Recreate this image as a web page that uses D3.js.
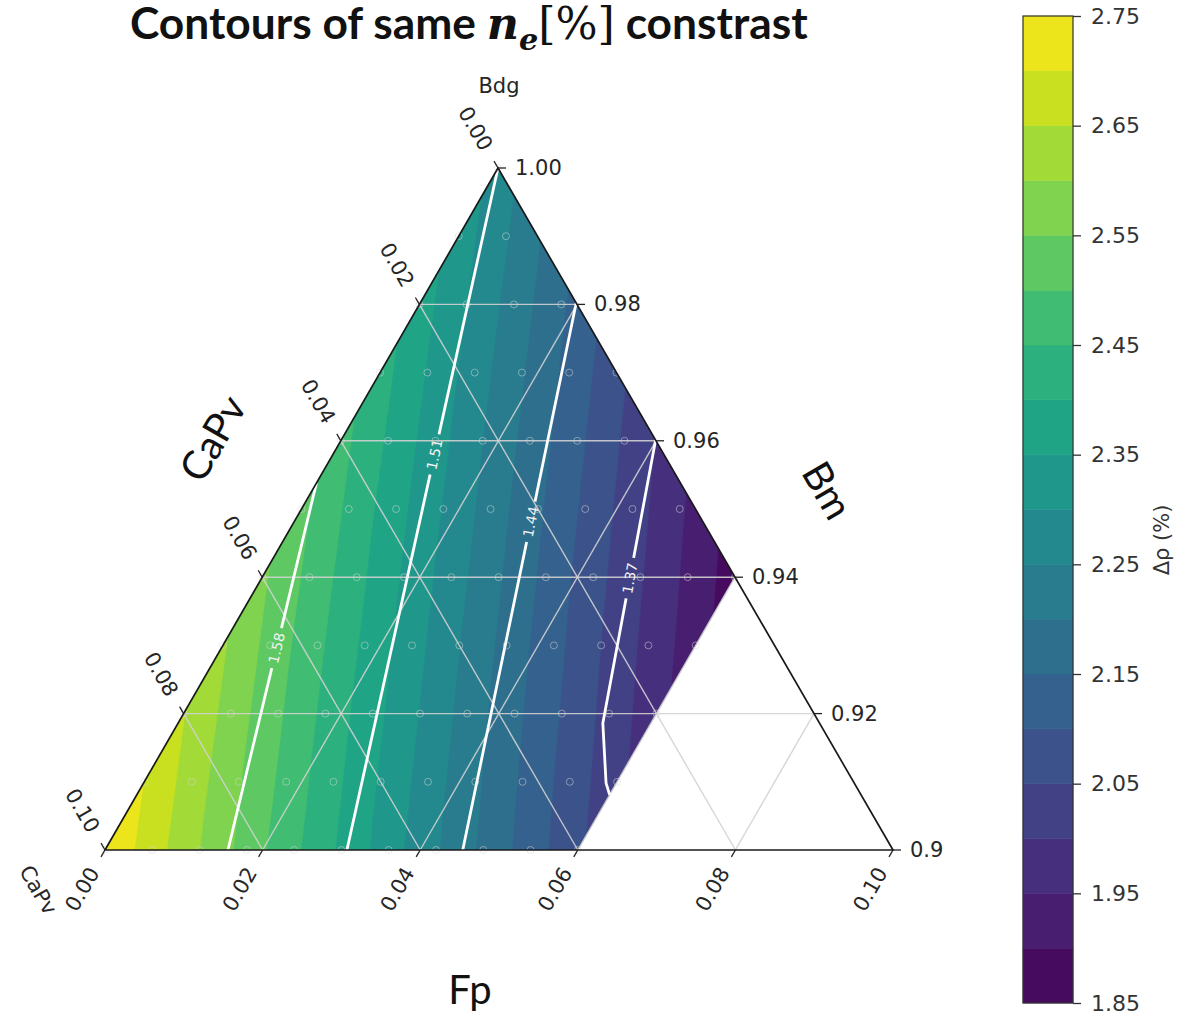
<!DOCTYPE html>
<html>
<head>
<meta charset="utf-8">
<script src="https://cdn.jsdelivr.net/npm/d3@7"></script>
<style>
  body { margin: 0; background: #fff; }
  svg { display: block; }
</style>
</head>
<body>
<svg id="chart" width="1197" height="1014"></svg>
<script>
// Δρ (%) on a 0.01 grid.
// rows = CaPv 0.00 … 0.10, columns = Fp 0.00 … 0.06
// (nodes with Fp + CaPv > 0.10 sit outside the triangle and get clipped)
const fpNodes = [0, 0.01, 0.02, 0.03, 0.04, 0.05, 0.06];
const capvNodes = [0, 0.01, 0.02, 0.03, 0.04, 0.05, 0.06, 0.07, 0.08, 0.09, 0.10];
const dRho = [
  [2.280, 2.205, 2.134, 2.065, 1.998, 1.935, 1.874],
  [2.327, 2.252, 2.181, 2.112, 2.045, 1.982, 1.921],
  [2.373, 2.298, 2.227, 2.158, 2.091, 2.028, 1.967],
  [2.420, 2.345, 2.274, 2.205, 2.138, 2.075, 2.014],
  [2.466, 2.391, 2.320, 2.251, 2.184, 2.121, 2.060],
  [2.513, 2.438, 2.367, 2.298, 2.231, 2.168, 2.107],
  [2.559, 2.484, 2.413, 2.344, 2.277, 2.214, 2.153],
  [2.606, 2.531, 2.460, 2.391, 2.324, 2.261, 2.200],
  [2.652, 2.577, 2.506, 2.437, 2.370, 2.307, 2.246],
  [2.699, 2.624, 2.553, 2.484, 2.417, 2.354, 2.293],
  [2.745, 2.670, 2.599, 2.530, 2.463, 2.400, 2.339]
];

const levels = [1.85, 1.90, 1.95, 2.00, 2.05, 2.10, 2.15, 2.20, 2.25, 2.30,
                2.35, 2.40, 2.45, 2.50, 2.55, 2.60, 2.65, 2.70, 2.75];
const cbarTicks = [1.85, 1.95, 2.05, 2.15, 2.25, 2.35, 2.45, 2.55, 2.65, 2.75];

// white n_e contrast isolines, points as [Fp, CaPv], bottom end first
const neLevels = ["1.58", "1.51", "1.44", "1.37"];
const neLines = [
  [[0.0156, 0.0844], [0.0, 0.0462]],
  [[0.0307, 0.0693], [0.0, 0.0]],
  [[0.0454, 0.0546], [0.0198, 0.0]],
  [[0.0600, 0.0319], [0.0587, 0.0315], [0.0539, 0.0275], [0.0399, 0.0]]
];
const neLabelAt = [0.55, 0.58, 0.60, 0.61];

// sampled compositions (faint circles)
const sampleFp = [0, 0.006, 0.012, 0.018, 0.024, 0.030, 0.036, 0.042, 0.048, 0.054, 0.060];
const sampleBm = [0.90, 0.91, 0.92, 0.93, 0.94, 0.95, 0.96, 0.97, 0.98, 0.99, 1.00];

const axisTicks = [0, 0.02, 0.04, 0.06, 0.08, 0.10];
const fpTickLabels = ["0.00", "0.02", "0.04", "0.06", "0.08", "0.10"];
const capvTickLabels = ["0.00", "0.02", "0.04", "0.06", "0.08", "0.10"];
const bmTickLabels = ["1.00", "0.98", "0.96", "0.94", "0.92", "0.90"];
const gridTicks = [0.02, 0.04, 0.06, 0.08];

const svg = d3.select("#chart");
svg.append("rect").attr("width", 1197).attr("height", 1014).attr("fill", "#fff");

// ternary frame: apex = Bm 1, left corner = CaPv 0.1, right corner = Fp 0.1
const apex = [498, 168], leftC = [105, 850], rightC = [893, 850];
const fpScale = d3.scaleLinear().domain([0, 0.1]).range([0, 1]);
const capvScale = d3.scaleLinear().domain([0, 0.1]).range([0, 1]);
function tern(fp, capv) {
  const u = fpScale(fp), w = capvScale(capv);
  return [apex[0] + u * (rightC[0] - apex[0]) + w * (leftC[0] - apex[0]),
          apex[1] + u * (rightC[1] - apex[1]) + w * (leftC[1] - apex[1])];
}

const defs = svg.append("defs");
const fpMax = d3.max(fpNodes);
defs.append("clipPath").attr("id", "dataClip")
  .append("polygon")
  .attr("points", [tern(0, 0), tern(fpMax, 0), tern(fpMax, 0.1 - fpMax), tern(0, 0.1)].map(p => p.join(",")).join(" "));
defs.append("clipPath").attr("id", "pageClip")
  .append("rect").attr("x", 0).attr("y", 0).attr("width", 943).attr("height", 1014);

// filled contours
const nx = fpNodes.length, ny = capvNodes.length;
const gridFp = d3.scaleLinear().domain([0.5, nx - 0.5]).range([fpNodes[0], fpNodes[nx - 1]]);
const gridCapv = d3.scaleLinear().domain([0.5, ny - 0.5]).range([capvNodes[0], capvNodes[ny - 1]]);
const proj = d3.geoTransform({
  point(x, y) {
    const p = tern(gridFp(x), gridCapv(y));
    this.stream.point(p[0], p[1]);
  }
});
const geo = d3.geoPath(proj);
const bandColor = i => d3.interpolateViridis((i + 0.5) / (levels.length - 1));
const bands = d3.contours().size([nx, ny]).thresholds(levels.slice(0, -1))(dRho.flat());

svg.append("g").attr("clip-path", "url(#dataClip)")
  .selectAll("path")
  .data(bands)
  .join("path")
    .attr("d", geo)
    .attr("fill", (d, i) => bandColor(i))
    .attr("stroke", (d, i) => bandColor(i))
    .attr("stroke-width", 0.5);

// gray grid
const gridG = svg.append("g")
  .attr("stroke", "#d2d2d2").attr("stroke-opacity", 0.9).attr("stroke-width", 1.4).attr("fill", "none");
gridTicks.forEach(t => {
  // constant Bm (horizontal)
  gridG.append("line").datum([tern(0, t), tern(t, 0)])
    .attr("x1", d => d[0][0]).attr("y1", d => d[0][1]).attr("x2", d => d[1][0]).attr("y2", d => d[1][1]);
  // constant CaPv
  gridG.append("line").datum([tern(0, t), tern(0.1 - t, t)])
    .attr("x1", d => d[0][0]).attr("y1", d => d[0][1]).attr("x2", d => d[1][0]).attr("y2", d => d[1][1]);
  // constant Fp
  gridG.append("line").datum([tern(t, 0.1 - t), tern(t, 0)])
    .attr("x1", d => d[0][0]).attr("y1", d => d[0][1]).attr("x2", d => d[1][0]).attr("y2", d => d[1][1]);
});

// white isolines with inline labels
const mask = defs.append("mask").attr("id", "neMask")
  .attr("maskUnits", "userSpaceOnUse").attr("x", 0).attr("y", 0).attr("width", 1197).attr("height", 1014);
mask.append("rect").attr("width", 1197).attr("height", 1014).attr("fill", "#fff");

const lineGen = d3.line().x(d => tern(d[0], d[1])[0]).y(d => tern(d[0], d[1])[1]);
const neG = svg.append("g").attr("mask", "url(#neMask)");
const neLabelG = svg.append("g");
neLines.forEach((pts, i) => {
  const p = neG.append("path")
    .attr("d", lineGen(pts))
    .attr("fill", "none").attr("stroke", "#fff").attr("stroke-width", 2.8)
    .attr("stroke-linejoin", "round");
  const node = p.node();
  const L = node.getTotalLength();
  const c = node.getPointAtLength(L * neLabelAt[i]);
  const c2 = node.getPointAtLength(Math.min(L, L * neLabelAt[i] + 3));
  const c1 = node.getPointAtLength(Math.max(0, L * neLabelAt[i] - 3));
  const ang = Math.atan2(c2.y - c1.y, c2.x - c1.x) * 180 / Math.PI;
  const txt = neLabelG.append("text")
    .attr("transform", `translate(${c.x},${c.y}) rotate(${ang})`)
    .attr("text-anchor", "middle").attr("dominant-baseline", "central")
    .attr("font-family", "DejaVu Sans").attr("font-size", 14)
    .attr("fill", "#f4f4f4")
    .text(neLevels[i]);
  const w = txt.node().getComputedTextLength() + 10;
  mask.append("rect")
    .attr("x", -w / 2).attr("y", -9).attr("width", w).attr("height", 18)
    .attr("transform", `translate(${c.x},${c.y}) rotate(${ang})`)
    .attr("fill", "#000");
});

// sample circles
const samples = [];
sampleBm.forEach(bm => sampleFp.forEach(fp => {
  const capv = 1 - bm - fp;
  if (capv > -1e-9) samples.push(tern(fp, Math.max(0, capv)));
}));
svg.append("g").selectAll("circle")
  .data(samples)
  .join("circle")
    .attr("cx", d => d[0]).attr("cy", d => d[1]).attr("r", 3.5)
    .attr("fill", "none").attr("stroke", "#d8d8d8").attr("stroke-opacity", 0.5).attr("stroke-width", 1);

// triangle outline
svg.append("polygon")
  .attr("points", [apex, leftC, rightC].map(p => p.join(",")).join(" "))
  .attr("fill", "none").attr("stroke", "#1a1a1a").attr("stroke-width", 1.7);

// ticks and tick labels
const tickLen = 8, labOff = 22, s60 = Math.sqrt(3) / 2;
const axG = svg.append("g").attr("clip-path", "url(#pageClip)")
  .attr("font-family", "DejaVu Sans").attr("font-size", 21).attr("fill", "#262626");

axisTicks.forEach((t, i) => {
  // bottom: Fp
  const b = tern(t, 0.1 - t);
  axG.append("line").attr("x1", b[0]).attr("y1", b[1])
    .attr("x2", b[0] - 0.5 * tickLen).attr("y2", b[1] + s60 * tickLen)
    .attr("stroke", "#222").attr("stroke-width", 1.3);
  axG.append("text")
    .attr("transform", `translate(${b[0] - 0.5 * labOff},${b[1] + s60 * labOff}) rotate(-60)`)
    .attr("text-anchor", "end").attr("dominant-baseline", "central")
    .text(fpTickLabels[i]);

  // left: CaPv
  const l = tern(0, t);
  axG.append("line").attr("x1", l[0]).attr("y1", l[1])
    .attr("x2", l[0] - 0.5 * tickLen).attr("y2", l[1] - s60 * tickLen)
    .attr("stroke", "#222").attr("stroke-width", 1.3);
  axG.append("text")
    .attr("transform", `translate(${l[0] - 0.5 * labOff},${l[1] - s60 * labOff}) rotate(60)`)
    .attr("text-anchor", "end").attr("dominant-baseline", "central")
    .text(capvTickLabels[i]);

  // right: Bm
  const r = tern(t, 0);
  axG.append("line").attr("x1", r[0]).attr("y1", r[1])
    .attr("x2", r[0] + tickLen).attr("y2", r[1])
    .attr("stroke", "#222").attr("stroke-width", 1.3);
  axG.append("text")
    .attr("x", r[0] + 17).attr("y", r[1])
    .attr("dominant-baseline", "central")
    .text(bmTickLabels[i]);
});

// corner labels
svg.append("text").attr("x", 499).attr("y", 93)
  .attr("text-anchor", "middle").attr("font-family", "DejaVu Sans").attr("font-size", 21).attr("fill", "#262626")
  .text("Bdg");
svg.append("text").attr("transform", "translate(38,890) rotate(60)")
  .attr("text-anchor", "middle").attr("dominant-baseline", "central")
  .attr("font-family", "DejaVu Sans").attr("font-size", 21).attr("fill", "#262626")
  .text("CaPv");

// axis titles
const titleFont = "Lato, 'Open Sans', sans-serif";
svg.append("text").attr("transform", "translate(212,438) rotate(-60)")
  .attr("text-anchor", "middle").attr("dominant-baseline", "central")
  .attr("font-family", titleFont).attr("font-size", 40).attr("fill", "#111")
  .text("CaPv");
svg.append("text").attr("transform", "translate(828,490) rotate(60)")
  .attr("text-anchor", "middle").attr("dominant-baseline", "central")
  .attr("font-family", titleFont).attr("font-size", 40).attr("fill", "#111")
  .text("Bm");
svg.append("text").attr("x", 470).attr("y", 1004)
  .attr("text-anchor", "middle")
  .attr("font-family", titleFont).attr("font-size", 40).attr("fill", "#111")
  .text("Fp");

// title
const titleG = svg.append("g");
const title = titleG.append("text").attr("x", 0).attr("y", 0)
  .attr("font-family", titleFont).attr("font-weight", "bold").attr("font-size", 38).attr("fill", "#111");
title.append("tspan").text("Contours of same ");
title.append("tspan").attr("font-family", "'DejaVu Serif', serif").attr("font-style", "italic").text("n");
title.append("tspan").attr("font-family", "'DejaVu Serif', serif").attr("font-style", "italic")
  .attr("font-size", 26).attr("dy", 9).text("e");
title.append("tspan").attr("font-family", "'DejaVu Serif', serif").attr("font-weight", "normal")
  .attr("dy", -9).text("[%]");
title.append("tspan").text(" constrast");
const tw = title.node().getComputedTextLength();
titleG.attr("transform", `translate(130,39) scale(${678 / tw})`);

// colorbar
const cbX = 1023, cbW = 50;
const cbY = d3.scaleLinear().domain([levels[0], levels[levels.length - 1]]).range([1003, 16]);
const cbG = svg.append("g");
cbG.selectAll("rect")
  .data(levels.slice(0, -1))
  .join("rect")
    .attr("x", cbX).attr("width", cbW)
    .attr("y", (d, i) => cbY(levels[i + 1]))
    .attr("height", (d, i) => cbY(levels[i]) - cbY(levels[i + 1]))
    .attr("fill", (d, i) => bandColor(i))
    .attr("stroke", (d, i) => bandColor(i)).attr("stroke-width", 0.5);
cbG.append("rect")
  .attr("x", cbX).attr("y", cbY(levels[levels.length - 1]))
  .attr("width", cbW).attr("height", cbY(levels[0]) - cbY(levels[levels.length - 1]))
  .attr("fill", "none").attr("stroke", "#333").attr("stroke-width", 1.2);
svg.append("g")
  .attr("transform", `translate(${cbX + cbW},0)`)
  .call(d3.axisRight(cbY).tickValues(cbarTicks).tickFormat(d3.format(".2f")).tickSize(8).tickPadding(10))
  .call(g => g.select(".domain").remove())
  .call(g => g.selectAll(".tick line").attr("stroke", "#333").attr("stroke-width", 1.3))
  .call(g => g.selectAll(".tick text")
      .attr("font-family", "DejaVu Sans").attr("font-size", 22).attr("fill", "#333"));
svg.append("text")
  .attr("transform", "translate(1162,540) rotate(-90)")
  .attr("text-anchor", "middle").attr("dominant-baseline", "central")
  .attr("font-family", "DejaVu Sans").attr("font-size", 21).attr("fill", "#333")
  .text("Δρ (%)");
</script>
</body>
</html>
